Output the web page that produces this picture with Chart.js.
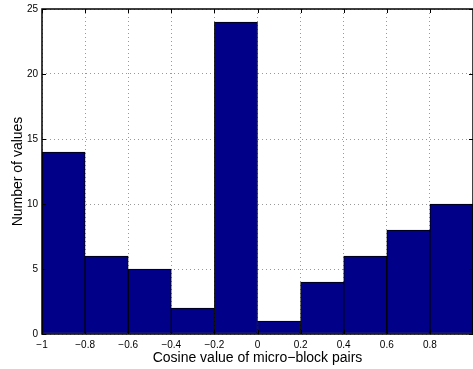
<!DOCTYPE html>
<html>
<head>
<meta charset="utf-8">
<script src="https://cdn.jsdelivr.net/npm/chart.js"></script>
<style>
  html, body { margin: 0; padding: 0; background: #fff; }
  #wrap { width: 473px; height: 369px; }
</style>
</head>
<body>
<div id="wrap"><canvas id="histChart"></canvas></div>
<script>
// histogram data: bin centres and counts
const binCenters = [-0.9, -0.7, -0.5, -0.3, -0.1, 0.1, 0.3, 0.5, 0.7, 0.9];
const binCounts = [14, 6, 5, 2, 24, 1, 4, 6, 8, 10];
const xTicks = [-1, -0.8, -0.6, -0.4, -0.2, 0, 0.2, 0.4, 0.6, 0.8, 1];
const yTicks = [0, 5, 10, 15, 20, 25];

const FONT = "'Liberation Sans', Arial, Helvetica, sans-serif";

function fmt(v) {
    const s = String(Math.round(v * 10) / 10);
    return s.replace('-', '\u2212');
}

// box + inward tick marks, matlab style
const axesBox = {
    id: 'axesBox',
    afterDatasetsDraw(chart) {
        const { ctx, chartArea: a, scales } = chart;
        ctx.save();
        ctx.strokeStyle = '#000';
        ctx.lineWidth = 1;
        ctx.beginPath();
        xTicks.forEach(v => {
            const px = Math.round(scales.x.getPixelForValue(v)) + 0.5;
            ctx.moveTo(px, a.bottom); ctx.lineTo(px, a.bottom - 4);
            ctx.moveTo(px, a.top); ctx.lineTo(px, a.top + 4);
        });
        yTicks.forEach(v => {
            const py = Math.round(scales.y.getPixelForValue(v)) + 0.5;
            ctx.moveTo(a.left, py); ctx.lineTo(a.left + 4, py);
            ctx.moveTo(a.right, py); ctx.lineTo(a.right - 4, py);
        });
        ctx.stroke();
        ctx.lineWidth = 1.5;
        ctx.strokeRect(a.left, a.top, a.right - a.left, a.bottom - a.top);
        ctx.restore();
    }
};

new Chart(document.getElementById('histChart').getContext('2d'), {
    type: 'bar',
    data: {
        datasets: [{
            data: binCenters.map((c, i) => ({ x: c, y: binCounts[i] })),
            backgroundColor: '#000089',
            borderColor: '#000',
            borderWidth: 1,
            borderSkipped: false,
            barPercentage: 1,
            categoryPercentage: 1
        }]
    },
    plugins: [axesBox],
    options: {
        responsive: true,
        maintainAspectRatio: false,
        animation: false,
        layout: { padding: { top: 9, right: 0, left: 0, bottom: 0 } },
        plugins: { legend: { display: false }, tooltip: { enabled: false } },
        scales: {
            x: {
                type: 'linear',
                min: -1,
                max: 1,
                offset: false,
                afterBuildTicks: s => { s.ticks = xTicks.map(v => ({ value: v })); },
                afterFit: s => {
                    s.height = 35;
                    s.paddingLeft = 0;
                    s.paddingRight = 0;
                },
                ticks: {
                    color: '#000',
                    font: { family: FONT, size: 10 },
                    padding: 5,
                    maxRotation: 0,
                    callback: v => (v >= 1 ? '' : fmt(v))
                },
                grid: {
                    color: '#999',
                    borderDash: [1, 3],
                    offset: false,
                    tickLength: 0,
                    drawTicks: false
                },
                border: { display: false, dash: [1, 3] },
                title: {
                    display: true,
                    text: 'Cosine value of micro\u2212block pairs',
                    color: '#000',
                    font: { family: FONT, size: 14 },
                    padding: { top: 0, bottom: 2 }
                }
            },
            y: {
                min: 0,
                max: 25,
                afterBuildTicks: s => { s.ticks = yTicks.map(v => ({ value: v })); },
                afterFit: s => {
                    s.width = 42;
                    s.paddingTop = 0;
                    s.paddingBottom = 0;
                },
                ticks: {
                    color: '#000',
                    font: { family: FONT, size: 10 },
                    padding: 4,
                    callback: v => fmt(v)
                },
                grid: {
                    color: '#999',
                    borderDash: [1, 3],
                    tickLength: 0,
                    drawTicks: false
                },
                border: { display: false, dash: [1, 3] },
                title: {
                    display: true,
                    text: 'Number of values',
                    color: '#000',
                    font: { family: FONT, size: 14 },
                    padding: { top: 10, bottom: 0 }
                }
            }
        }
    }
});
</script>
</body>
</html>
